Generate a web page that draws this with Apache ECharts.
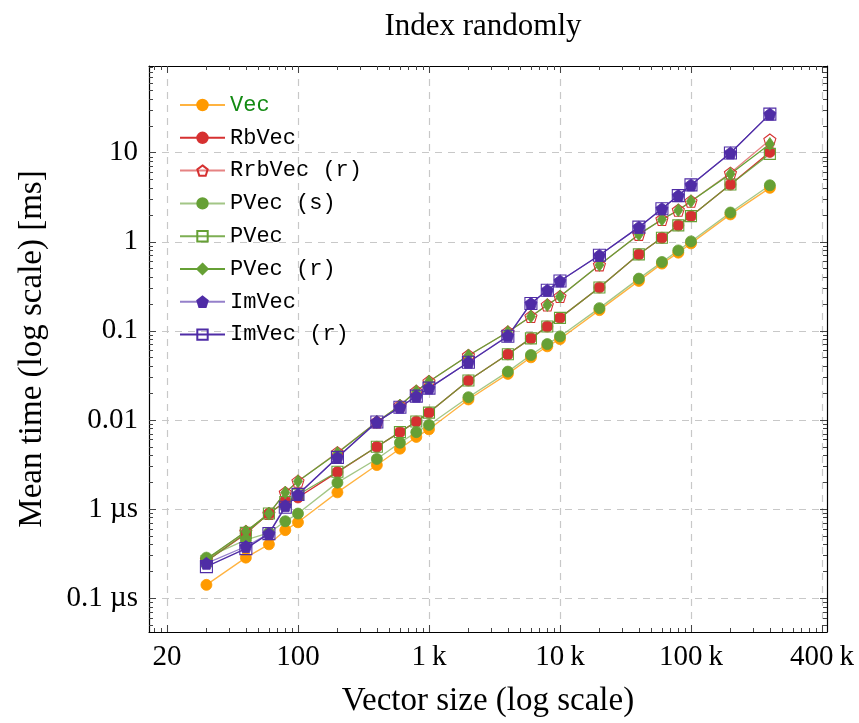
<!DOCTYPE html>
<html>
<head>
<meta charset="utf-8">
<script src="https://cdn.jsdelivr.net/npm/echarts@6/dist/echarts.min.js"></script>
<style>
html, body { margin: 0; padding: 0; background: #fff; }
#chart { width: 859px; height: 723px; }
</style>
</head>
<body>
<div id="chart"></div>
<script>
// vector sizes (x) and mean times in ms (y)
const sizes = [20, 40, 60, 80, 100, 200, 400, 600, 800, 1000, 2000, 4000, 6000, 8000, 10000, 20000, 40000, 60000, 80000, 100000, 200000, 400000];

const vec     = [1.41e-4, 2.85e-4, 4.02e-4, 5.8e-4, 7.1e-4, 1.54e-3, 3.12e-3, 4.76e-3, 6.45e-3, 7.85e-3, 0.0170, 0.0329, 0.0505, 0.0671, 0.081, 0.171, 0.364, 0.569, 0.755, 0.96, 2.03, 4.03];
const rbVec   = [2.6e-4, 5.3e-4, 8.9e-4, 1.21e-3, 1.35e-3, 2.6e-3, 5.0e-3, 7.3e-3, 9.6e-3, 0.0121, 0.0277, 0.0546, 0.0824, 0.112, 0.140, 0.307, 0.723, 1.11, 1.53, 1.94, 4.39, 10.2];
const rrbVecR = [2.7e-4, 5.6e-4, 8.9e-4, 1.53e-3, 2.05e-3, 4.3e-3, 9.5e-3, 0.0145, 0.021, 0.027, 0.053, 0.097, 0.145, 0.195, 0.243, 0.55, 1.21, 1.78, 2.26, 2.85, 5.9, 13.9];
const pVecS   = [2.85e-4, 4.5e-4, 5.4e-4, 7.3e-4, 8.9e-4, 1.98e-3, 3.65e-3, 5.55e-3, 7.3e-3, 8.8e-3, 0.0180, 0.0349, 0.0536, 0.0711, 0.0867, 0.180, 0.386, 0.593, 0.80, 1.01, 2.13, 4.31];
const pVec    = [2.6e-4, 5.4e-4, 8.9e-4, 1.2e-3, 1.45e-3, 2.62e-3, 5.0e-3, 7.3e-3, 9.6e-3, 0.0121, 0.0277, 0.0546, 0.0824, 0.112, 0.140, 0.307, 0.723, 1.11, 1.53, 1.94, 4.39, 9.7];
const pVecR   = [2.75e-4, 5.6e-4, 8.9e-4, 1.53e-3, 2.05e-3, 4.25e-3, 9.5e-3, 0.0145, 0.021, 0.027, 0.053, 0.097, 0.145, 0.195, 0.243, 0.55, 1.21, 1.78, 2.26, 2.85, 5.78, 12.5];
const imVec   = [2.46e-4, 3.8e-4, 5.3e-4, 1.09e-3, 1.46e-3, 3.8e-3, 9.5e-3, 0.0139, 0.0185, 0.0228, 0.0445, 0.088, 0.203, 0.286, 0.363, 0.705, 1.46, 2.35, 3.30, 4.35, 9.93, 27.1];
const imVecR  = [2.26e-4, 3.6e-4, 5.3e-4, 1.05e-3, 1.46e-3, 3.8e-3, 9.5e-3, 0.0139, 0.0185, 0.0228, 0.0445, 0.087, 0.203, 0.286, 0.363, 0.705, 1.46, 2.35, 3.30, 4.35, 9.93, 27.1];

// tick labels (pgfplots labels as they appear in the picture)
const xTickValues = [10, 100, 1000, 10000, 100000, 1000000];
const xTickLabels = ['20', '100', '1\u2009k', '10\u2009k', '100\u2009k', '400\u2009k'];
const yTickValues = [1e-4, 1e-3, 0.01, 0.1, 1, 10];
const yTickLabels = ['0.1 µs', '1 µs', '0.01', '0.1', '1', '10'];

const X_MIN = 7.29, X_MAX = 1.092e6;
const Y_MIN = 4.17e-5, Y_MAX = 94;

function minorTicks(lo, hi) {
    const out = [];
    for (let e = Math.floor(Math.log10(lo)); e <= Math.ceil(Math.log10(hi)); e++) {
        for (let k = 2; k <= 9; k++) {
            const v = k * Math.pow(10, e);
            if (v > lo && v < hi) out.push(v);
        }
    }
    return out;
}

function labelFor(values, labels) {
    return v => {
        const i = values.findIndex(t => Math.abs(Math.log10(t) - Math.log10(v)) < 1e-6);
        return i >= 0 ? labels[i] : '';
    };
}

const SERIF = '"Liberation Serif", "DejaVu Serif", serif';
const MONO = '"Liberation Mono", "DejaVu Sans Mono", monospace';
const TICK = '#444';
const PENTAGON = 'path://M0,-1 L0.951,-0.309 L0.588,0.809 L-0.588,0.809 L-0.951,-0.309 Z';

const ORANGE = '#ff9a00';
const RED = '#d63131';
const GREEN = '#66a035';
const PURPLE = '#4f2ca6';

function xAxis(position, major, showLabel) {
    return {
        type: 'log',
        position: position,
        min: X_MIN,
        max: X_MAX,
        axisLine: { show: major, onZero: false, lineStyle: { color: '#000', width: 1.2 } },
        axisTick: { show: true, inside: true, length: major ? 7 : 4, customValues: major ? xTickValues : minorTicks(X_MIN, X_MAX), lineStyle: { color: TICK, width: 1 } },
        minorTick: { show: false },
        axisLabel: showLabel ? {
            show: true, customValues: xTickValues, formatter: labelFor(xTickValues, xTickLabels),
            fontFamily: SERIF, fontSize: 29, color: '#000', margin: 11
        } : { show: false },
        splitLine: (major && showLabel) ? { show: true, lineStyle: { color: '#c8c8c8', type: [7, 6], width: 1.2 } } : { show: false },
        name: showLabel ? 'Vector size (log scale)' : '',
        nameLocation: 'middle',
        nameGap: 53,
        nameTextStyle: { fontFamily: SERIF, fontSize: 33, color: '#000' }
    };
}

function yAxis(position, major, showLabel) {
    return {
        type: 'log',
        position: position,
        min: Y_MIN,
        max: Y_MAX,
        axisLine: { show: major, onZero: false, lineStyle: { color: '#000', width: 1.2 } },
        axisTick: { show: true, inside: true, length: major ? 7 : 4, customValues: major ? yTickValues : minorTicks(Y_MIN, Y_MAX), lineStyle: { color: TICK, width: 1 } },
        minorTick: { show: false },
        axisLabel: showLabel ? {
            show: true, customValues: yTickValues, formatter: labelFor(yTickValues, yTickLabels),
            fontFamily: SERIF, fontSize: 29, color: '#000', margin: 11
        } : { show: false },
        splitLine: (major && showLabel) ? { show: true, lineStyle: { color: '#c8c8c8', type: [7, 6], width: 1.2 } } : { show: false },
        name: showLabel ? 'Mean time (log scale) [ms]' : '',
        nameLocation: 'middle',
        nameGap: 100,
        nameTextStyle: { fontFamily: SERIF, fontSize: 33, color: '#000' }
    };
}

function makeSeries(name, values, color, symbol, size, filled, lineOpacity) {
    return {
        name: name,
        type: 'line',
        data: sizes.map((s, i) => [s, values[i]]),
        xAxisIndex: 0,
        yAxisIndex: 0,
        symbol: symbol,
        symbolSize: size,
        showAllSymbol: true,
        lineStyle: { color: color, width: 1.3, opacity: lineOpacity },
        itemStyle: filled
            ? { color: color, borderColor: color, borderWidth: 0.8 }
            : { color: 'rgba(255,255,255,0)', borderColor: color, borderWidth: 1.1 },
        emphasis: { disabled: true }
    };
}

const chart = echarts.init(document.getElementById('chart'), null, { renderer: 'canvas' });

chart.setOption({
    animation: false,
    backgroundColor: '#fff',
    title: {
        text: 'Index randomly',
        left: 478,
        top: 6,
        textAlign: 'center',
        textStyle: { fontFamily: SERIF, fontSize: 31, fontWeight: 'normal', color: '#000' }
    },
    grid: { left: 149, right: 32, top: 66, bottom: 89, containLabel: false },
    legend: {
        orient: 'vertical',
        left: 174,
        top: 89,
        itemWidth: 45,
        itemHeight: 13,
        itemGap: 10.8,
        textStyle: { fontFamily: MONO, fontSize: 22, color: '#000' },
        data: [
            { name: 'Vec', textStyle: { color: '#138a13' } },
            'RbVec', 'RrbVec (r)', 'PVec (s)', 'PVec', 'PVec (r)', 'ImVec', 'ImVec (r)'
        ]
    },
    xAxis: [
        xAxis('bottom', true, true),
        xAxis('bottom', false, false),
        xAxis('top', true, false),
        xAxis('top', false, false)
    ],
    yAxis: [
        yAxis('left', true, true),
        yAxis('left', false, false),
        yAxis('right', true, false),
        yAxis('right', false, false)
    ],
    series: [
        makeSeries('Vec', vec, ORANGE, 'circle', 11, true, 0.75),
        makeSeries('RbVec', rbVec, RED, 'circle', 11, true, 1),
        makeSeries('RrbVec (r)', rrbVecR, RED, PENTAGON, 12, false, 0.6),
        makeSeries('PVec (s)', pVecS, GREEN, 'circle', 11, true, 0.6),
        makeSeries('PVec', pVec, GREEN, 'rect', 11, false, 0.85),
        makeSeries('PVec (r)', pVecR, GREEN, 'diamond', [9, 13], true, 1),
        makeSeries('ImVec', imVec, PURPLE, PENTAGON, 12, true, 0.6),
        makeSeries('ImVec (r)', imVecR, PURPLE, 'rect', 12, false, 1)
    ]
});
</script>
</body>
</html>
